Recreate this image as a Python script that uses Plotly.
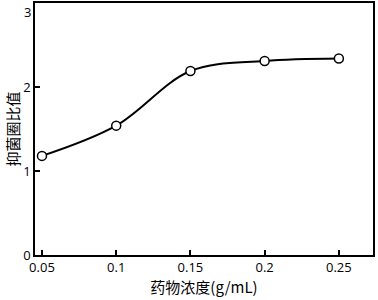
import plotly.graph_objects as go

conc = [0.05, 0.1, 0.15, 0.2, 0.25]
ratio = [1.18, 1.54, 2.19, 2.31, 2.34]
x_ticks = [0.05, 0.1, 0.15, 0.2, 0.25]
x_tick_labels = ["0.05", "0.1", "0.15", "0.2", "0.25"]
y_ticks = [0, 1, 2, 3]
y_top = 3

fig = go.Figure()
fig.add_trace(go.Scatter(
    x=conc, y=ratio, mode="lines+markers",
    line=dict(shape="spline", smoothing=1.0, color="black", width=2),
    marker=dict(symbol="circle", size=9, color="white",
                line=dict(color="black", width=1.5)),
    showlegend=False,
))

fig.update_layout(
    width=378, height=300,
    margin=dict(l=35, r=5, t=3, b=45),
    paper_bgcolor="white", plot_bgcolor="white",
    font=dict(family="Open Sans, sans-serif", color="black", size=13),
)
fig.update_xaxes(
    range=[0.0453, 0.273], tickvals=x_ticks, ticktext=x_tick_labels,
    ticks="inside", ticklen=5, tickwidth=1.5, tickcolor="black",
    showline=True, linecolor="black", linewidth=1.5, mirror=True,
    showgrid=False, zeroline=False, automargin=False,
    title=dict(text="药物浓度(g/mL)", font=dict(family="Noto Sans CJK SC", size=15), standoff=2),
)
fig.update_yaxes(
    range=[0, y_top], tickvals=y_ticks,
    ticks="inside", ticklen=5, tickwidth=1.5, tickcolor="black",
    showline=True, linecolor="black", linewidth=1.5, mirror=True,
    showgrid=False, zeroline=False, automargin=False,
    title=dict(text="抑菌圈比值", font=dict(family="Noto Sans CJK SC", size=15), standoff=0),
)
# top tick label (Plotly drops it because it would overflow the page edge)
fig.add_annotation(
    x=0, xref="paper", y=y_top, yref="y", text=str(y_top), showarrow=False,
    xanchor="right", yanchor="top", xshift=-2, yshift=2,
    font=dict(family="Open Sans, sans-serif", size=13, color="black"),
)

fig.write_html("out.html", config={"displayModeBar": False},
               post_script="document.body.style.margin='0';document.body.style.overflow='hidden';")
